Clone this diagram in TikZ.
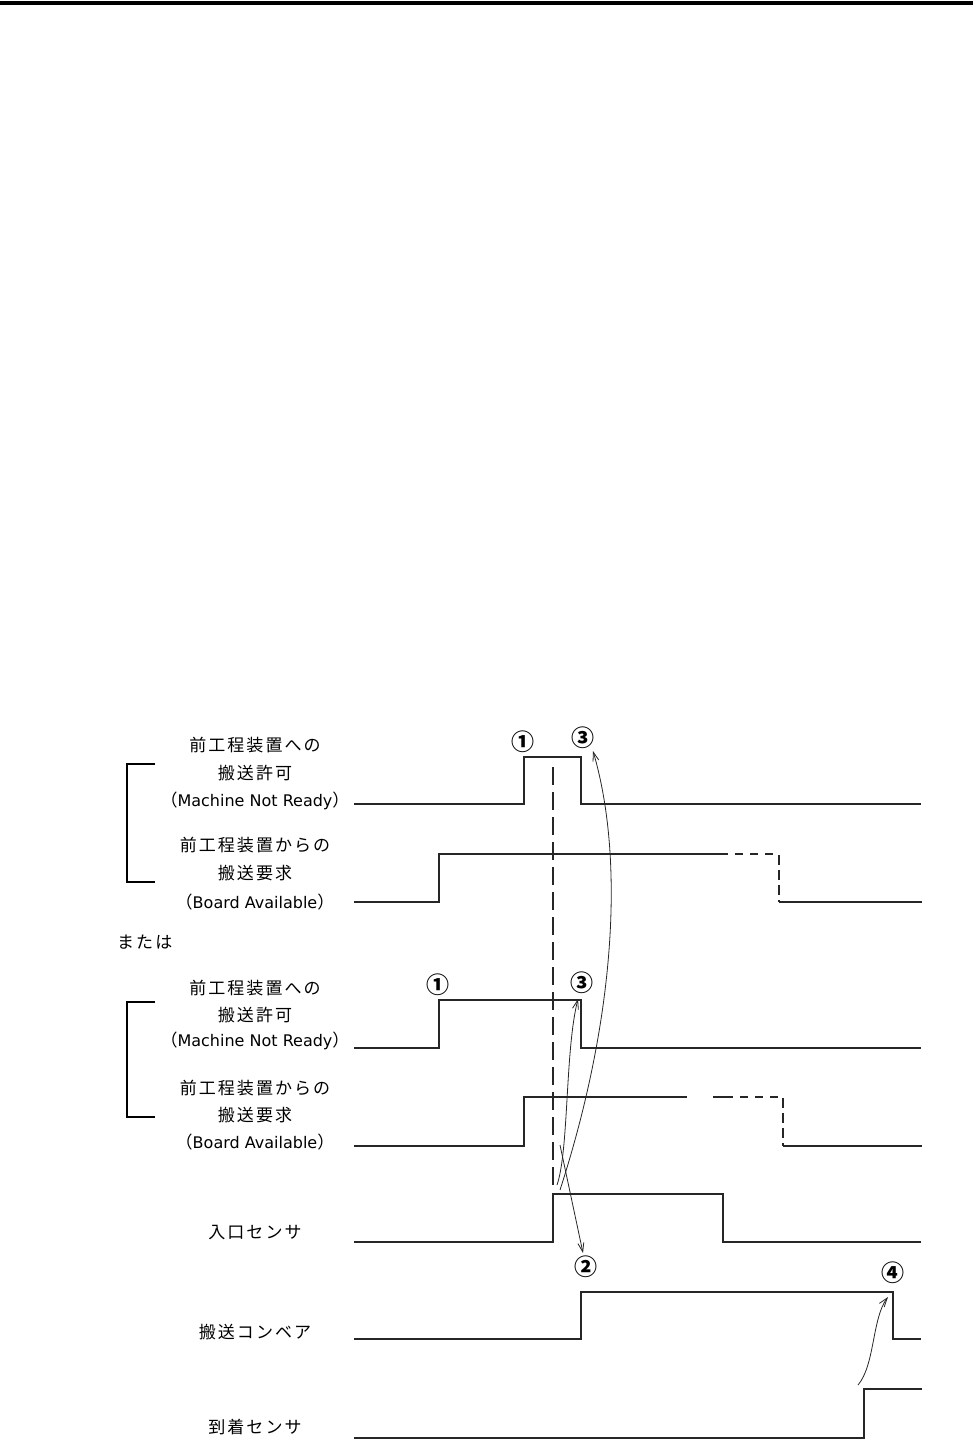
\documentclass[tikz,border=0pt]{standalone}
\usepackage{fontspec}
\usetikzlibrary{arrows.meta}
\newfontfamily\jf[LetterSpace=12]{Noto Sans CJK JP}
\newfontfamily\jn{Noto Sans CJK JP}
\newfontfamily\lf{DejaVu Sans}
\newcommand{\lat}[1]{{\lf\fontsize{16}{20}\selectfont #1}}
\begin{document}
\begin{tikzpicture}[x=1pt,y=-1pt,
  sig/.style={line width=1.3pt, black!85, line join=miter},
  sigdash/.style={sig, dash pattern=on 8pt off 7pt},
  vdash/.style={line width=1.2pt, black!85, dash pattern=on 18pt off 7pt},
  brk/.style={line width=2.8pt, black},
  lbl/.style={font=\jf\fontsize{17}{20}\selectfont, inner sep=0pt, text=black},
  num/.style={font=\jn\bfseries\fontsize{23}{26}\selectfont, inner sep=0pt},
  arr/.style={line width=0.8pt, black!85, -{Straight Barb[length=9pt,width=6pt]}}]
\useasboundingbox (0,0) rectangle (973,1443);
% top rule
\fill[black] (0,0.5) rectangle (973,4.5);

% labels, group 1
\node[lbl] (l1a) at (255,745) {前工程装置への};
\node[lbl] (l1b) at (255,773) {搬送許可};
\node[lbl] (l1c) at (255,801) {（\lat{Machine Not Ready}）};
\node[lbl] (l2a) at (255,845) {前工程装置からの};
\node[lbl] (l2b) at (255,873) {搬送要求};
\node[lbl] (l2c) at (255,902) {（\lat{Board Available}）};
\node[lbl, anchor=west] (or) at (117,942) {または};
% labels, group 2
\node[lbl] (l3a) at (255,988) {前工程装置への};
\node[lbl] (l3b) at (255,1015) {搬送許可};
\node[lbl] (l3c) at (255,1041) {（\lat{Machine Not Ready}）};
\node[lbl] (l4a) at (255,1088) {前工程装置からの};
\node[lbl] (l4b) at (255,1115) {搬送要求};
\node[lbl] (l4c) at (255,1142) {（\lat{Board Available}）};
\node[lbl] (l5) at (255,1233) {入口センサ};
\node[lbl] (l6) at (255,1332) {搬送コンベア};
\node[lbl] (l7) at (255,1427) {到着センサ};

% brackets
\draw[brk] (155,764) -- (127,764) -- (127,882) -- (155,882);
\draw[brk] (155,1002) -- (127,1002) -- (127,1117) -- (155,1117);

% signal 1: Machine Not Ready (top)
\draw[sig] (354,804) -- (524,804) -- (524,757) -- (581,757) -- (581,804) -- (921,804);
% signal 2: Board Available (top)
\draw[sig] (354,902) -- (439,902) -- (439,854) -- (728,854);
\draw[sigdash] (735,854) -- (779,854);
\draw[sig, dash pattern=on 10pt off 5pt] (779,855) -- (779,902);
\draw[sig] (779,902) -- (922,902);
% signal 3: Machine Not Ready (second)
\draw[sig] (354,1048) -- (439,1048) -- (439,1000) -- (581,1000) -- (581,1048) -- (921,1048);
% signal 4: Board Available (second)
\draw[sig] (354,1146) -- (524,1146) -- (524,1097) -- (687,1097);
\draw[sig] (713,1097) -- (733,1097);
\draw[sigdash] (740,1097) -- (783,1097);
\draw[sig, dash pattern=on 10pt off 5pt] (783,1098) -- (783,1146);
\draw[sig] (783,1146) -- (922,1146);
% entrance sensor
\draw[sig] (354,1242) -- (553,1242) -- (553,1194) -- (723,1194) -- (723,1242) -- (921,1242);
% conveyor
\draw[sig] (354,1339) -- (581,1339) -- (581,1292) -- (893,1292) -- (893,1339) -- (921,1339);
% arrival sensor
\draw[sig] (354,1438) -- (864,1438) -- (864,1389) -- (922,1389);

% vertical dashed reference line
\draw[vdash] (553,767) -- (553,1188);

% circled numbers
\node[num] (n1a) at (523,742) {①};
\node[num] (n3a) at (583,738) {③};
\node[num] (n1b) at (438,985) {①};
\node[num] (n3b) at (582,983) {③};
\node[num] (n2) at (586,1267) {②};
\node[num] (n4) at (893,1273) {④};

% arrow end points
\coordinate (a1s) at (560,1190);
\coordinate (a1e) at (593,751);
\coordinate (a2s) at (557,1185);
\coordinate (a2e) at (578,999);
\coordinate (a3s) at (560,1145);
\coordinate (a3e) at (583,1253);
\coordinate (a4s) at (858,1385);
\coordinate (a4e) at (888,1297);

\draw[arr] (a1s) .. controls (615,1020) and (625,860) .. (a1e);
\draw[arr] (a2s) .. controls (569,1150) and (565,1050) .. (a2e);
\draw[arr] (a3s) -- (a3e);
\draw[arr] (a4s) .. controls (875,1365) and (872,1318) .. (a4e);
\end{tikzpicture}
\end{document}
